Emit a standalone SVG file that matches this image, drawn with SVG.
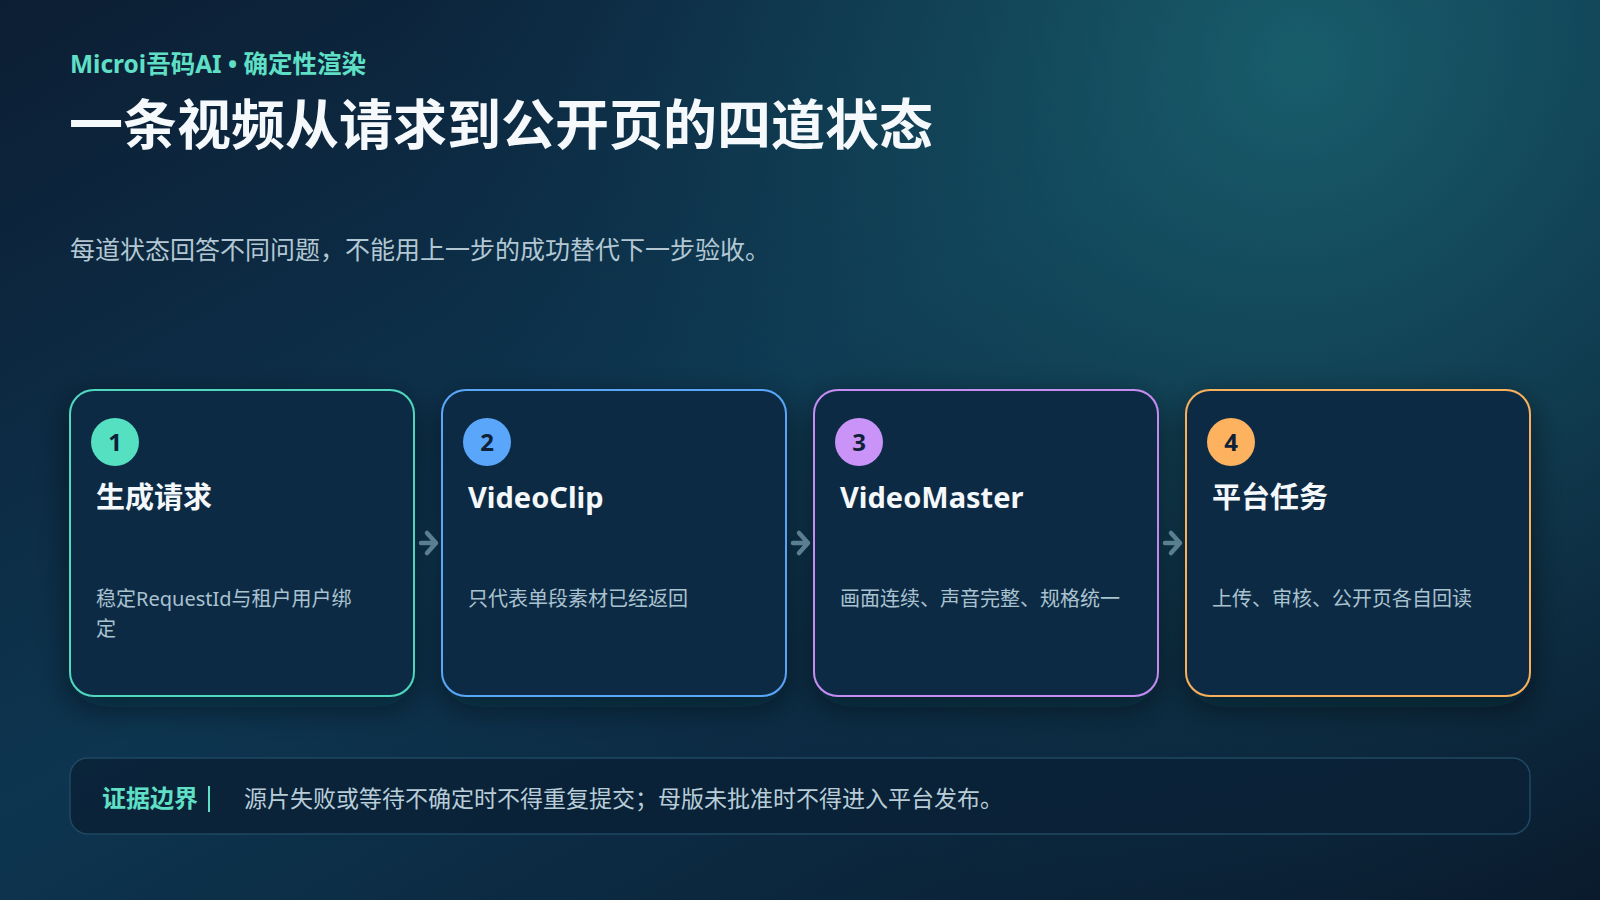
<svg xmlns="http://www.w3.org/2000/svg" width="1600" height="900" viewBox="0 0 1600 900">
  <defs>
    <linearGradient id="bg" x1="0" y1="0" x2="1" y2="1">
      <stop offset="0" stop-color="#0c1e33"/>
      <stop offset="0.45" stop-color="#0d3550"/>
      <stop offset="1" stop-color="#0a1a2c"/>
    </linearGradient>
    <radialGradient id="glow" cx="1300" cy="60" r="900" gradientUnits="userSpaceOnUse">
      <stop offset="0" stop-color="#1a6470" stop-opacity="0.85"/>
      <stop offset="0.5" stop-color="#155060" stop-opacity="0.45"/>
      <stop offset="1" stop-color="#0d3550" stop-opacity="0"/>
    </radialGradient>
    <filter id="shadow" x="-20%" y="-20%" width="140%" height="150%">
      <feDropShadow dx="0" dy="10" stdDeviation="16" flood-color="#020b16" flood-opacity="0.5"/>
    </filter>
    <style>
      .cjk { font-family: "Noto Sans", "Noto Sans CJK SC", sans-serif; }
      .card { fill: #0c2a45; stroke-width: 2; filter: url(#shadow); }
      .num { font-family: "Noto Sans", "Noto Sans CJK SC", sans-serif; font-size: 24px; font-weight: 700; fill: #0d2238; text-anchor: middle; }
      .ttl { font-family: "Noto Sans", "Noto Sans CJK SC", sans-serif; font-size: 29px; font-weight: 700; fill: #f4f8fb; }
      .desc { font-family: "Noto Sans", "Noto Sans CJK SC", sans-serif; font-size: 20px; fill: #a9c2cf; }
      .conn { stroke: #5a7f90; stroke-width: 4.5; fill: none; stroke-linecap: round; stroke-linejoin: round; }
    </style>
  </defs>

  <rect width="1600" height="900" fill="url(#bg)"/>
  <rect width="1600" height="900" fill="url(#glow)"/>

  <g id="header">
    <text x="70" y="73" class="cjk" font-size="24.5" font-weight="700" fill="#5fe0c6">Microi吾码AI • 确定性渲染</text>
    <text x="69" y="145" class="cjk" font-size="54" font-weight="700" fill="#f5f9fc">一条视频从请求到公开页的四道状态</text>
    <text x="70" y="259" class="cjk" font-size="25" fill="#b3c8d3">每道状态回答不同问题，不能用上一步的成功替代下一步验收。</text>
  </g>

  <g id="node-1">
    <rect class="card" x="70" y="390" width="344" height="306" rx="24" stroke="#4fd8bd"/>
    <circle cx="115" cy="442" r="24" fill="#56e0c2"/>
    <text class="num" x="115" y="451">1</text>
    <text class="ttl" x="96" y="508">生成请求</text>
    <text class="desc" x="96" y="606">稳定RequestId与租户用户绑</text>
    <text class="desc" x="96" y="636">定</text>
  </g>

  <g id="node-2">
    <rect class="card" x="442" y="390" width="344" height="306" rx="24" stroke="#5aa6f8"/>
    <circle cx="487" cy="442" r="24" fill="#5aa6fb"/>
    <text class="num" x="487" y="451">2</text>
    <text class="ttl" x="468" y="508">VideoClip</text>
    <text class="desc" x="468" y="606">只代表单段素材已经返回</text>
  </g>

  <g id="node-3">
    <rect class="card" x="814" y="390" width="344" height="306" rx="24" stroke="#c58df2"/>
    <circle cx="859" cy="442" r="24" fill="#c993f8"/>
    <text class="num" x="859" y="451">3</text>
    <text class="ttl" x="840" y="508">VideoMaster</text>
    <text class="desc" x="840" y="606">画面连续、声音完整、规格统一</text>
  </g>

  <g id="node-4">
    <rect class="card" x="1186" y="390" width="344" height="306" rx="24" stroke="#f8b05c"/>
    <circle cx="1231" cy="442" r="24" fill="#fcb25e"/>
    <text class="num" x="1231" y="451">4</text>
    <text class="ttl" x="1212" y="508">平台任务</text>
    <text class="desc" x="1212" y="606">上传、审核、公开页各自回读</text>
  </g>

  <g id="connectors">
    <path class="conn" d="M421,543 H435 M427,533 L436,543 L427,553"/>
    <path class="conn" d="M793,543 H807 M799,533 L808,543 L799,553"/>
    <path class="conn" d="M1165,543 H1179 M1171,533 L1180,543 L1171,553"/>
  </g>

  <g id="footer">
    <rect x="70" y="758" width="1460" height="76" rx="18" fill="#0b2136" fill-opacity="0.85" stroke="#1f4862" stroke-width="1.5"/>
    <text x="102" y="807" class="cjk" font-size="24" font-weight="700" fill="#5fe0c6">证据边界</text>
    <rect x="208" y="786" width="2" height="26" fill="#5fe0c6"/>
    <text x="244" y="807" class="cjk" font-size="23" fill="#b8cdd8">源片失败或等待不确定时不得重复提交；母版未批准时不得进入平台发布。</text>
  </g>
</svg>
